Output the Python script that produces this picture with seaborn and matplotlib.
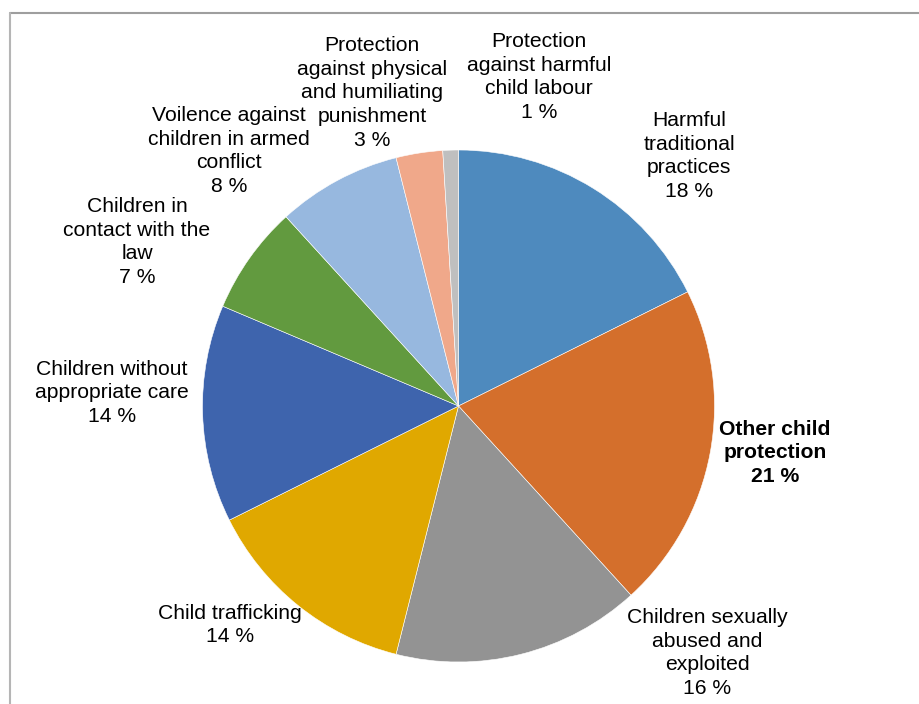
import matplotlib
matplotlib.use("Agg")
import matplotlib.pyplot as plt
from matplotlib.lines import Line2D
import seaborn as sns

sns.set_theme(style="white")
plt.rcParams["font.family"] = ["Liberation Sans", "DejaVu Sans"]

# Share of child-protection spending by category (percent)
categories = [
    "Harmful\ntraditional\npractices",
    "Other child\nprotection",
    "Children sexually\nabused and\nexploited",
    "Child trafficking",
    "Children without\nappropriate care",
    "Children in\ncontact with the\nlaw",
    "Voilence against\nchildren in armed\nconflict",
    "Protection\nagainst physical\nand humiliating\npunishment",
    "Protection\nagainst harmful\nchild labour",
]
shares = [18, 21, 16, 14, 14, 7, 8, 3, 1]
colors = ["#4E8ABE", "#D46F2C", "#939393", "#E0A800", "#3E64AD",
          "#629A3F", "#97B8DF", "#F0A88A", "#BFBFBF"]
bold = [False, True, False, False, False, False, False, False, False]

# label centres in pixel space (x, y from top)
label_pos = [(689, 156), (775, 453), (707, 653), (230, 625), (112, 393),
             (137, 242), (229, 151), (372, 93), (539, 77)]

W, H = 919, 704
fig = plt.figure(figsize=(W / 100, H / 100), dpi=100)
fig.patch.set_facecolor("white")
ax = fig.add_axes([0, 0, 1, 1])

ax.pie(shares, colors=colors, startangle=90, counterclock=False,
       center=(458.5, H - 406), radius=256, frame=True,
       wedgeprops=dict(edgecolor="white", linewidth=0.4))
ax.set_xlim(0, W)
ax.set_ylim(0, H)
ax.set_aspect("equal")
ax.axis("off")

for name, val, (x, y), b in zip(categories, shares, label_pos, bold):
    ax.text(x, H - y, f"{name}\n{val} %", ha="center", va="center",
            fontsize=15.2, linespacing=1.33, color="black",
            fontweight="bold" if b else "normal")

# chart-area border (top and left edges)
fig.add_artist(Line2D([10 / W, 1], [1 - 13 / H, 1 - 13 / H],
                      transform=fig.transFigure, color="#9E9E9E", lw=1.5))
fig.add_artist(Line2D([10 / W, 10 / W], [0, 1 - 13 / H],
                      transform=fig.transFigure, color="#B5B5B5", lw=1.5))

fig.savefig("out.png", dpi=100)
